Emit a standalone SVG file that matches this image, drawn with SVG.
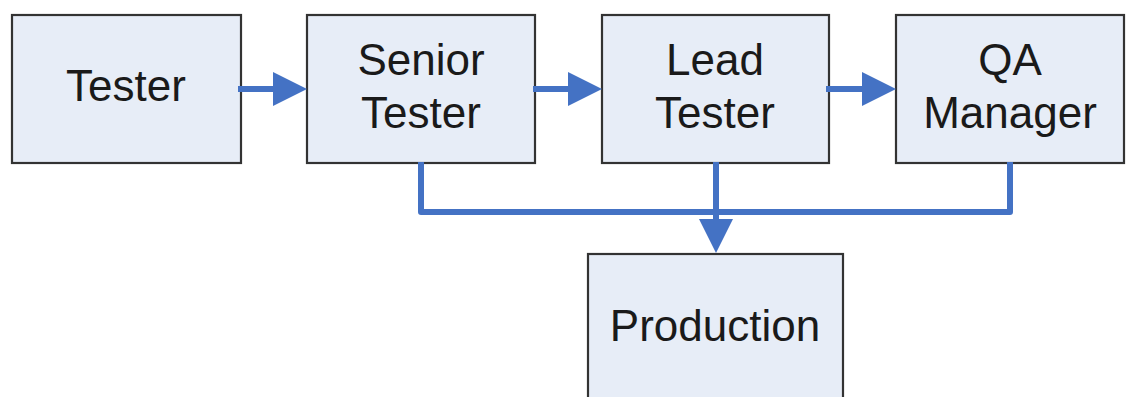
<svg xmlns="http://www.w3.org/2000/svg" width="1135" height="397" viewBox="0 0 1135 397">
  <style>
    .box { fill: #e7edf7; stroke: #333333; stroke-width: 2.2; }
    .lbl { font-family: "Liberation Sans", Arial, sans-serif; font-size: 44px; fill: #1a1a1a; text-anchor: middle; }
    .wire { fill: none; stroke: #4472c4; stroke-width: 6; stroke-linejoin: round; }
    .head { fill: #4472c4; }
  </style>
  <rect width="1135" height="397" fill="#ffffff"/>

  <g id="tester">
    <rect class="box" x="12" y="15" width="229" height="148"/>
    <text class="lbl" x="126" y="101">Tester</text>
  </g>
  <g id="senior-tester">
    <rect class="box" x="307" y="15" width="228" height="148"/>
    <text class="lbl" x="421" y="75">Senior</text>
    <text class="lbl" x="421" y="128">Tester</text>
  </g>
  <g id="lead-tester">
    <rect class="box" x="602" y="15" width="227" height="148"/>
    <text class="lbl" x="715" y="75">Lead</text>
    <text class="lbl" x="715" y="128">Tester</text>
  </g>
  <g id="qa-manager">
    <rect class="box" x="896" y="15" width="228" height="148"/>
    <text class="lbl" x="1010" y="75">QA</text>
    <text class="lbl" x="1010" y="128">Manager</text>
  </g>
  <g id="production">
    <rect class="box" x="588" y="254" width="255" height="160"/>
    <text class="lbl" x="715" y="341">Production</text>
  </g>

  <g id="connectors">
    <!-- promotion chain -->
    <line class="wire" x1="238" y1="89" x2="276" y2="89"/>
    <polygon class="head" points="273,72 307,89 273,106"/>
    <line class="wire" x1="533" y1="89" x2="571" y2="89"/>
    <polygon class="head" points="568,72 602,89 568,106"/>
    <line class="wire" x1="826" y1="89" x2="864" y2="89"/>
    <polygon class="head" points="862,72 896,89 862,106"/>
    <!-- release bus into production -->
    <polyline class="wire" points="421,162 421,212 1010,212 1010,162"/>
    <line class="wire" x1="716" y1="162" x2="716" y2="222"/>
    <polygon class="head" points="699,219 733,219 716,253"/>
  </g>
</svg>
